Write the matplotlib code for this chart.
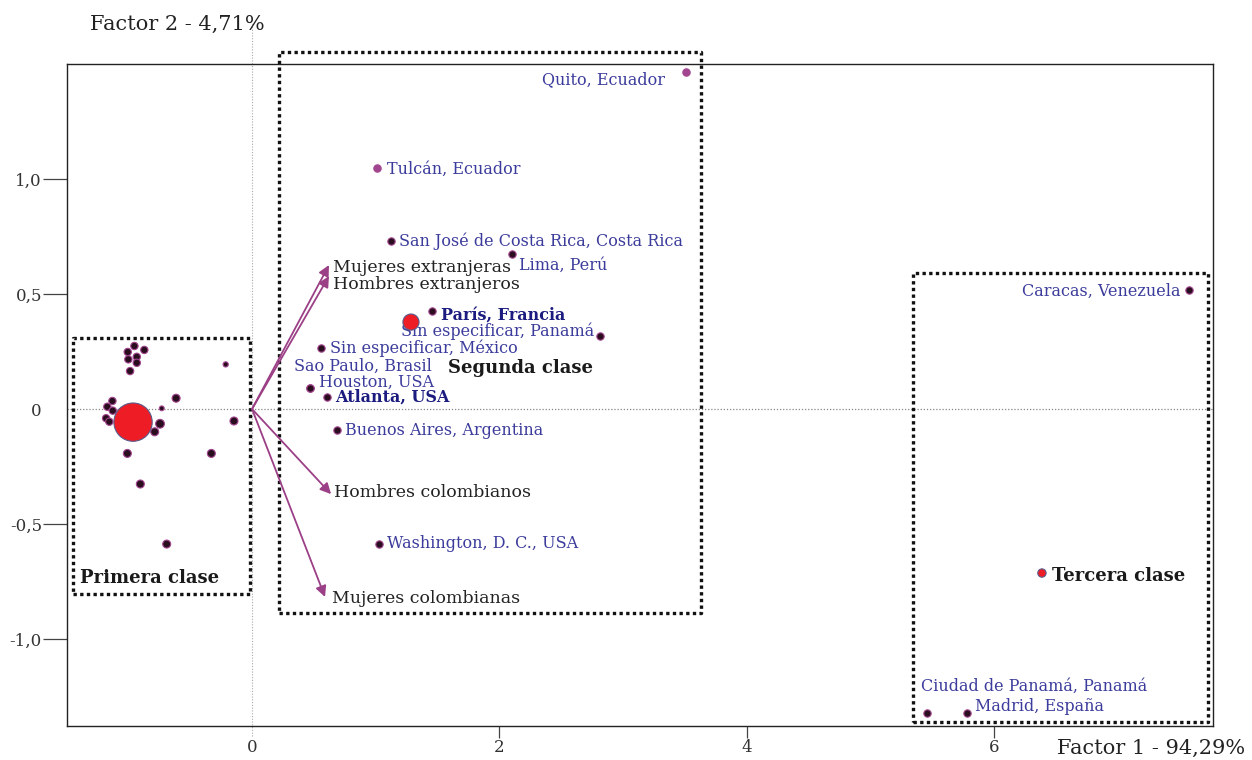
import numpy as np
import matplotlib.pyplot as plt

# puntos de la primera clase (sin etiqueta)
p1_x = [-0.951, -1.005, -0.871, -0.932, -1.000, -0.932, -0.986, -0.213, -0.614, -1.129,
        -1.170, -1.126, -0.730, -1.180, -1.154, -0.744, -0.787, -0.146, -1.008, -0.329,
        -0.903, -0.690]
p1_y = [0.274, 0.248, 0.257, 0.227, 0.216, 0.201, 0.165, 0.194, 0.047, 0.035,
        0.010, -0.007, 0.003, -0.040, -0.055, -0.064, -0.099, -0.052, -0.193, -0.193,
        -0.326, -0.587]
p1_s = [28, 28, 28, 28, 28, 28, 28, 14, 33, 28,
        28, 28, 12, 28, 28, 40, 33, 33, 33, 33,
        33, 33]

# ciudades
ciudades = ["Quito, Ecuador", "Tulcán, Ecuador", "San José de Costa Rica, Costa Rica",
            "Lima, Perú", "París, Francia", "Sin especificar, Panamá",
            "Sin especificar, México", "Sao Paulo, Brasil", "Houston, USA",
            "Atlanta, USA", "Buenos Aires, Argentina", "Washington, D. C., USA",
            "Caracas, Venezuela", "Ciudad de Panamá, Panamá", "Madrid, España"]
cx = [3.509, 1.011, 1.124, 2.102, 1.455, 2.813, 0.558, 0.469, 0.469, 0.606, 0.687,
      1.027, 7.575, 5.457, 5.780]
cy = [1.465, 1.048, 0.730, 0.674, 0.426, 0.317, 0.265, 0.091, 0.091, 0.052, -0.091,
      -0.587, 0.517, -1.322, -1.322]
# desplazamiento de la etiqueta en pixeles, alineacion, negrita
c_off = [(-21, -8), (10, -1), (8, 0), (7, -11), (9, -4), (-6, 5), (9, 0), (-16, 22),
         (9, 6), (8, 0), (8, -1), (8, 1), (-9, -1), (-6, 27), (8, 7)]
c_ha = ["right", "left", "left", "left", "left", "right", "left", "left", "left",
        "left", "left", "left", "right", "left", "left"]
c_bold = [False, False, False, False, True, False, False, False, False, True,
          False, False, False, False, False]
c_morado = [True, True] + [False] * 13

# variables (flechas)
variables = ["Mujeres extranjeras", "Hombres extranjeros", "Hombres colombianos",
             "Mujeres colombianas"]
vx = [0.622, 0.622, 0.639, 0.590]
vy = [0.626, 0.578, -0.370, -0.817]
v_off = [(4, -2), (4, -8), (3, 2), (7, -2)]

# centros de clase
clases = ["Primera clase", "Segunda clase", "Tercera clase"]
kx = [-0.962, 1.285, 6.386]
ky = [-0.057, 0.378, -0.713]
ks = [760, 135, 36]
k_lab_x = [-1.390, 1.585, 6.467]
k_lab_y = [-0.735, 0.178, -0.726]

# cajas punteadas (x0, x1, y0, y1)
cajas = [(-1.447, -0.016, -0.804, 0.309),
         (0.218, 3.630, -0.887, 1.552),
         (5.344, 7.728, -1.361, 0.591)]

azul = "#3c3c9c"
azul_osc = "#1c1c80"
morado = "#a2458f"
flecha = "#9b3f86"
punto = "#2a0d1f"
fuente = "DejaVu Serif"

fig = plt.figure(figsize=(12.52, 7.6), dpi=100)
ax = fig.add_axes([67/1252, 34/760, 1146/1252, 662/760])
ax.set_xlim(-1.496, 7.769)
ax.set_ylim(-1.378, 1.500)

ax.axhline(0, color="#888888", lw=0.9, ls=(0, (1, 1.5)), zorder=1)
ax.plot([0, 0], [-1.42, 1.68], color="#aaaaaa", lw=0.8, ls=(0, (1, 1.5)),
        clip_on=False, zorder=1)

for x0, x1, y0, y1 in cajas:
    ax.plot([x0, x1, x1, x0, x0], [y0, y0, y1, y1, y0], color="#111111", lw=2.4,
            ls=(0, (1, 1)), clip_on=False, zorder=2)

ax.scatter(p1_x, p1_y, s=p1_s, color=punto, edgecolors=morado, linewidths=0.8, zorder=4)

for i, nom in enumerate(ciudades):
    col_p = morado if c_morado[i] else punto
    ax.scatter(cx[i], cy[i], s=28, color=col_p,
               edgecolors=morado, linewidths=0.8, zorder=4)
    ax.annotate(nom, (cx[i], cy[i]), xytext=c_off[i], textcoords="offset pixels",
                ha=c_ha[i], va="center", fontsize=11.5, family=fuente,
                color=azul_osc if c_bold[i] else azul,
                fontweight="bold" if c_bold[i] else "normal", zorder=5)

for i, nom in enumerate(variables):
    ax.annotate("", xy=(vx[i], vy[i]), xytext=(0, 0),
                arrowprops=dict(arrowstyle="-|>", color=flecha, lw=1.3,
                                mutation_scale=16, shrinkA=0, shrinkB=0), zorder=3)
    ax.annotate(nom, (vx[i], vy[i]), xytext=v_off[i], textcoords="offset pixels",
                ha="left", va="center", fontsize=12.5, family=fuente, color="#222222")

ax.scatter(kx, ky, s=ks, color="#ee1c25", edgecolors="#5a5a8a", linewidths=0.8, zorder=6)
for i, nom in enumerate(clases):
    ax.text(k_lab_x[i], k_lab_y[i], nom, ha="left", va="center", fontsize=13,
            family=fuente, fontweight="bold", color="#1a1a1a", zorder=7)

# ejes
for sp in ax.spines.values():
    sp.set_color("#222222")
    sp.set_linewidth(1.0)
ax.set_xticks([0, 2, 4, 6])
ax.set_xticklabels(["0", "2", "4", "6"], family=fuente, fontsize=12, color="#333333")
ax.set_yticks([-1.0, -0.5, 0, 0.5, 1.0])
ax.set_yticklabels(["-1,0", "-0,5", "0", "0,5", "1,0"], family=fuente, fontsize=12,
                   color="#333333")
ax.tick_params(axis="x", length=8.6, width=0.9, color="#444444", pad=1)
ax.tick_params(axis="y", length=17, width=0.9, color="#444444", pad=1)
ax.xaxis.get_major_ticks()[0].tick1line.set_visible(False)
ax.yaxis.get_major_ticks()[2].tick1line.set_visible(False)

fig.text(90/1252, 1 - 24/760, "Factor 2 - 4,71%", family=fuente, fontsize=15,
         color="#222222", ha="left", va="center")
fig.text(1245/1252, 1 - 748/760, "Factor 1 - 94,29%", family=fuente, fontsize=15,
         color="#222222", ha="right", va="center")

fig.savefig("out.png", dpi=100)
